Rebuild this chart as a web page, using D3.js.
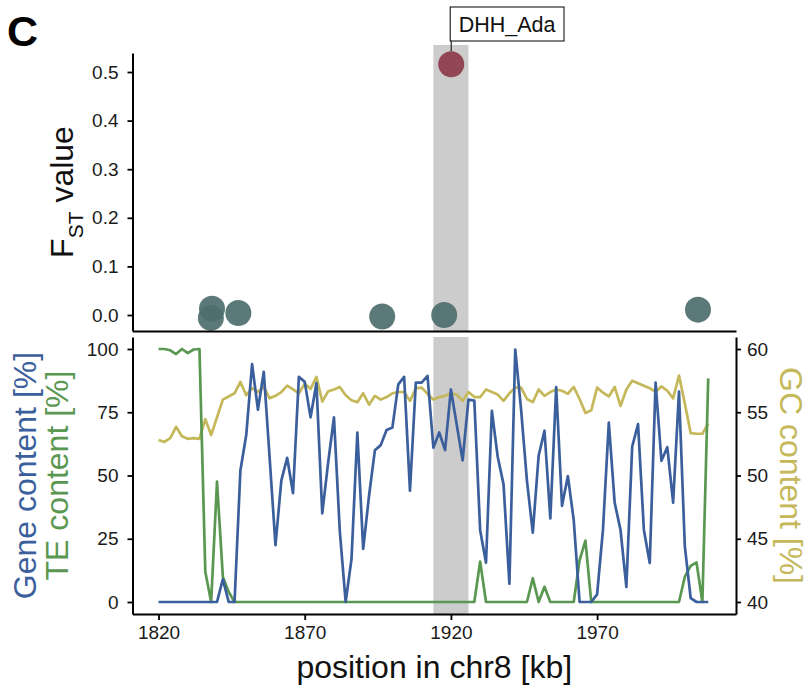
<!DOCTYPE html>
<html>
<head>
<meta charset="utf-8">
<script src="https://cdn.jsdelivr.net/npm/d3@7"></script>
<style>
body { margin: 0; background: #fff; }
svg text { font-family: "Liberation Sans", Arial, Helvetica, sans-serif; }
</style>
</head>
<body>
<div id="main"></div>
<script>
// window positions along chr8 (kb)
var positions = [1820,1822,1824,1826,1828,1830,1832,1834,1836,1838,1840,1842,1844,1846,1848,1850,1852,1854,1856,1858,
                 1860,1862,1864,1866,1868,1870,1872,1874,1876,1878,1880,1882,1884,1886,1888,1890,1892,1894,1896,1898,
                 1900,1902,1904,1906,1908,1910,1912,1914,1916,1918,1920,1922,1924,1926,1928,1930,1932,1934,1936,1938,
                 1940,1942,1944,1946,1948,1950,1952,1954,1956,1958,1960,1962,1964,1966,1968,1970,1972,1974,1976,1978,
                 1980,1982,1984,1986,1988,1990,1992,1994,1996,1998,2000,2002,2004,2006,2008];
var geneContent = [0,0,0,0,0,0,0,0,0,0,0,9,0,0,52,66,94,76,91,57,
                   22.5,48,57,43,89,87,73,86.5,35,55,73,28,0,17,67,21,42,60,62,68,
                   69,86,89,44,86.7,86.7,89.4,61,67,60,84,70,56,80,79.6,28.4,15.5,75.6,57.4,46.5,
                   7.2,99.8,76,48,27.4,57.8,67.7,33,84.9,38,49.8,32.4,0,0,0,3,28.5,70.9,39.3,28.5,
                   6,61.4,70.3,28.5,15.4,86.7,55.8,61.2,39.3,83.2,22,1.5,0,0,0];
var teContent = [100,100,99.5,98,100,98.4,99.8,100,12,0,47.6,10,4,0,0,0,0,0,0,0,
                 0,0,0,0,0,0,0,0,0,0,0,0,0,0,0,0,0,0,0,0,
                 0,0,0,0,0,0,0,0,0,0,0,0,0,0,0,16,0,0,0,0,
                 0,0,0,0,9.4,0,6,0,0,0,0,0,16.5,24.3,0,0,0,0,0,0,
                 0,0,0,0,0,0,0,0,0,0,10,14.3,15.6,0,88.4];
var gcContent = [52.8,52.65,52.95,53.85,53.1,52.9,52.95,52.9,54.45,53.2,54.6,56.0,56.25,56.5,57.4,56.35,56.9,56.6,57.0,56.1,
                 56.3,56.6,57.1,56.8,56.5,57.25,56.85,57.8,55.85,56.65,56.8,57.0,56.35,55.95,55.8,56.5,55.6,56.3,56.0,56.2,
                 56.5,56.6,56.6,55.9,56.9,56.95,56.45,56.0,56.2,56.3,56.5,56.4,55.9,56.6,56.2,56.2,56.8,56.6,56.4,55.9,
                 56.5,56.95,56.95,56.05,55.8,56.8,56.3,56.6,56.8,56.7,56.45,57.0,56.05,54.95,55.15,56.95,56.55,56.25,57.0,55.5,
                 56.8,57.5,57.3,57.1,56.9,56.6,57.05,56.7,56.1,57.9,55.7,53.35,53.3,53.3,54.1];

// Fst per gene
var fstPositions = [1838.3, 1837.9, 1847.3, 1896.5, 1917.7, 1920.1, 2004.5];
var fstValues = [0.013, -0.006, 0.004, -0.003, 0.0, 0.516, 0.011];
var fstLabels = ["", "", "", "", "", "DHH_Ada", ""];
var highlight = [1914, 1926];

var fstTicks = [0, 0.1, 0.2, 0.3, 0.4, 0.5];
var pctTicks = [0, 25, 50, 75, 100];
var gcTicks = [40, 45, 50, 55, 60];
var posTicks = [1820, 1870, 1920, 1970];

var ctx = {
    w: 810,
    h: 689,
    left: 132.5,
    right: 736,
    topY0: 53,
    topY1: 331,
    botY0: 337,
    botY1: 614,
    BLUE: "#3b5f9c",
    GREEN: "#5a9852",
    YELLOW: "#c4b85a",
    TEAL: "#4e6e6e",
    RED: "#8c3a4b",
    BAND: "#cccccc",
    tickFont: 19,
    titleFont: 32,
};

var styleAxis = function(g){
    g.select(".domain").attr("stroke", "#000").attr("stroke-width", 2);
    g.selectAll(".tick line").attr("stroke", "#000").attr("stroke-width", 1.8);
    g.selectAll(".tick text").attr("fill", "#1a1a1a")
        .style("font-size", ctx.tickFont + "px")
        .style("font-family", "'Liberation Sans', Arial, sans-serif");
};

var createTop = function(svgEl){
    var g = svgEl.append("g");
    // highlighted region
    g.append("rect")
        .attr("x", ctx.x(highlight[0]))
        .attr("width", ctx.x(highlight[1]) - ctx.x(highlight[0]))
        .attr("y", 45)
        .attr("height", ctx.topY1 - 45)
        .attr("fill", ctx.BAND);

    var pts = fstValues.map((v, i) => ({pos: fstPositions[i], v: v, label: fstLabels[i]}));
    g.selectAll("circle").data(pts).enter().append("circle")
        .attr("cx", d => ctx.x(d.pos))
        .attr("cy", d => ctx.yFst(d.v))
        .attr("r", 13)
        .attr("fill", d => d.label ? ctx.RED : ctx.TEAL)
        .attr("fill-opacity", 0.92);

    // label box for the outlier
    pts.filter(d => d.label).forEach(function(d){
        var px = ctx.x(d.pos), py = ctx.yFst(d.v);
        var t = g.append("text")
            .attr("x", px + 7.5)
            .attr("y", 31.5)
            .style("font-size", "21.5px")
            .attr("fill", "#111")
            .text(d.label);
        var len = t.node().getComputedTextLength();
        g.append("line")
            .attr("x1", px).attr("x2", px)
            .attr("y1", 41).attr("y2", py - 13)
            .attr("stroke", "#000").attr("stroke-width", 1);
        g.insert("rect", "text")
            .attr("x", px - 1).attr("y", 7)
            .attr("width", len + 17).attr("height", 34)
            .attr("fill", "#fff").attr("stroke", "#000").attr("stroke-width", 1);
    });

    g.append("g")
        .attr("transform", "translate(" + ctx.left + ",0)")
        .call(d3.axisLeft(ctx.yFst).tickValues(fstTicks).tickFormat(d3.format(".1f"))
              .tickSize(5).tickSizeOuter(0).tickPadding(9))
        .call(styleAxis);
    g.append("g")
        .attr("transform", "translate(0," + ctx.topY1 + ")")
        .call(d3.axisBottom(ctx.x).tickValues([]).tickSizeOuter(0))
        .call(styleAxis);

    // y title with subscript
    var yt = g.append("text")
        .attr("transform", "translate(73,192) rotate(-90)")
        .attr("text-anchor", "middle")
        .style("font-size", ctx.titleFont + "px")
        .attr("fill", "#111");
    yt.append("tspan").text("F");
    yt.append("tspan").attr("dy", 10).style("font-size", "21px").text("ST");
    yt.append("tspan").attr("dy", -10).text(" value");
};

var createBottom = function(svgEl){
    var g = svgEl.append("g");
    g.append("rect")
        .attr("x", ctx.x(highlight[0]))
        .attr("width", ctx.x(highlight[1]) - ctx.x(highlight[0]))
        .attr("y", ctx.botY0)
        .attr("height", ctx.botY1 - ctx.botY0)
        .attr("fill", ctx.BAND);

    var idx = positions.map((p, i) => i);
    var series = [
        {vals: gcContent, y: ctx.yGc, color: ctx.YELLOW},
        {vals: teContent, y: ctx.yPct, color: ctx.GREEN},
        {vals: geneContent, y: ctx.yPct, color: ctx.BLUE},
    ];
    series.forEach(function(s){
        var line = d3.line()
            .x(i => ctx.x(positions[i]))
            .y(i => s.y(s.vals[i]));
        g.append("path")
            .attr("d", line(idx))
            .attr("fill", "none")
            .attr("stroke", s.color)
            .attr("stroke-width", 2.7)
            .attr("stroke-linejoin", "round");
    });

    g.append("g")
        .attr("transform", "translate(" + ctx.left + ",0)")
        .call(d3.axisLeft(ctx.yPct).tickValues(pctTicks).tickSize(5).tickSizeOuter(0).tickPadding(9))
        .call(styleAxis);
    g.append("g")
        .attr("transform", "translate(" + ctx.right + ",0)")
        .call(d3.axisRight(ctx.yGc).tickValues(gcTicks).tickSize(5).tickSizeOuter(0).tickPadding(6))
        .call(styleAxis);
    g.append("g")
        .attr("transform", "translate(0," + ctx.botY1 + ")")
        .call(d3.axisBottom(ctx.x).tickValues(posTicks).tickFormat(d3.format("d"))
              .tickSize(6).tickSizeOuter(0).tickPadding(6))
        .call(styleAxis);

    var mid = (ctx.botY0 + ctx.botY1) / 2;
    g.append("text")
        .attr("transform", "translate(36," + mid + ") rotate(-90)")
        .attr("text-anchor", "middle")
        .style("font-size", ctx.titleFont + "px")
        .attr("fill", ctx.BLUE)
        .text("Gene content [%]");
    g.append("text")
        .attr("transform", "translate(68," + mid + ") rotate(-90)")
        .attr("text-anchor", "middle")
        .style("font-size", ctx.titleFont + "px")
        .attr("fill", ctx.GREEN)
        .text("TE content [%]");
    g.append("text")
        .attr("transform", "translate(780," + mid + ") rotate(90)")
        .attr("text-anchor", "middle")
        .style("font-size", ctx.titleFont + "px")
        .attr("fill", ctx.YELLOW)
        .text("GC content [%]");
    g.append("text")
        .attr("x", (ctx.left + ctx.right) / 2)
        .attr("y", 678)
        .attr("text-anchor", "middle")
        .style("font-size", ctx.titleFont + "px")
        .attr("fill", "#111")
        .text("position in chr8 [kb]");
};

var createViz = function(){
    var svgEl = d3.select("#main").append("svg")
        .attr("width", ctx.w)
        .attr("height", ctx.h);
    svgEl.append("rect").attr("width", ctx.w).attr("height", ctx.h).attr("fill", "#fff");

    ctx.x = d3.scaleLinear().domain([1811.1, 2017.5]).range([ctx.left, ctx.right]);
    ctx.yFst = d3.scaleLinear().domain([-0.0329, 0.5391]).range([ctx.topY1, ctx.topY0]);
    ctx.yPct = d3.scaleLinear().domain([-4.74, 104.74]).range([ctx.botY1, ctx.botY0]);
    ctx.yGc = d3.scaleLinear().domain([39.05, 60.95]).range([ctx.botY1, ctx.botY0]);

    createBottom(svgEl);
    createTop(svgEl);

    svgEl.append("text")
        .attr("x", 7).attr("y", 46)
        .style("font-size", "43px").style("font-weight", "bold")
        .attr("fill", "#000")
        .text("C");
};

createViz();
</script>
</body>
</html>
